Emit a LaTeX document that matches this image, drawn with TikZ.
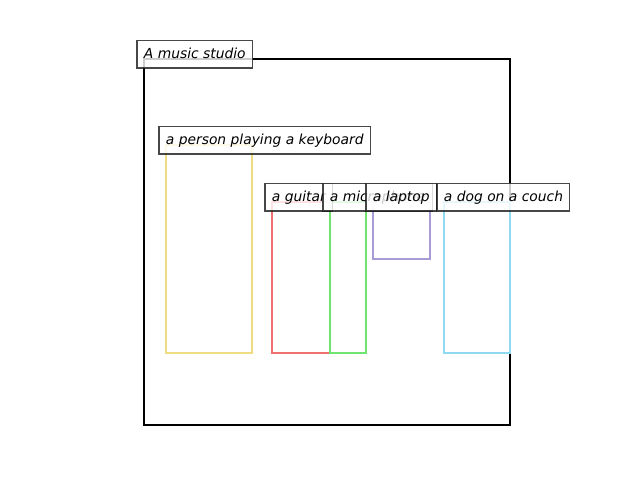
\documentclass[tikz,border=0pt]{standalone}
\usepackage{fontspec}
\newfontfamily\lblfont{DejaVu Sans}
\definecolor{cyel}{RGB}{240,220,130}
\definecolor{cred}{RGB}{240,112,112}
\definecolor{cgrn}{RGB}{112,228,112}
\definecolor{cpur}{RGB}{168,155,214}
\definecolor{cblu}{RGB}{143,217,242}
\begin{document}
\begin{tikzpicture}[x=0.01in,y=-0.01in,
  region/.style={line width=1.7pt},
  lbl/.style={anchor=base west, draw=black!90, draw opacity=0.8, fill=white,
    fill opacity=0.8, text opacity=1, line width=0.75pt, outer sep=0pt,
    inner xsep=5pt, inner ysep=5pt, text height=8.7pt, text depth=1.5pt,
    font=\lblfont\itshape\fontsize{10}{12}\selectfont}]
\useasboundingbox (0,0) rectangle (640,480);
% regions
\draw[region, black] (144,59) rectangle (510,425);
\draw[region, cyel] (166,145) rectangle (252,353);
\draw[region, cred] (272,202) rectangle (330,353);
\draw[region, cgrn] (330,202) rectangle (366,353);
\draw[region, cpur] (373,202) rectangle (430,259);
\draw[region, cblu] (444,202) rectangle (510,353);
% labels
\node[lbl] (lstudio) at (137,59) {A music studio};
\node[lbl] (lperson) at (159,145) {a person playing a keyboard};
\node[lbl] (lguitar) at (265,202) {a guitar};
\node[lbl] (lmic) at (323,202) {a microphone};
\node[lbl] (llaptop) at (366,202) {a laptop};
\node[lbl] (ldog) at (437,202) {a dog on a couch};
\end{tikzpicture}
\end{document}
